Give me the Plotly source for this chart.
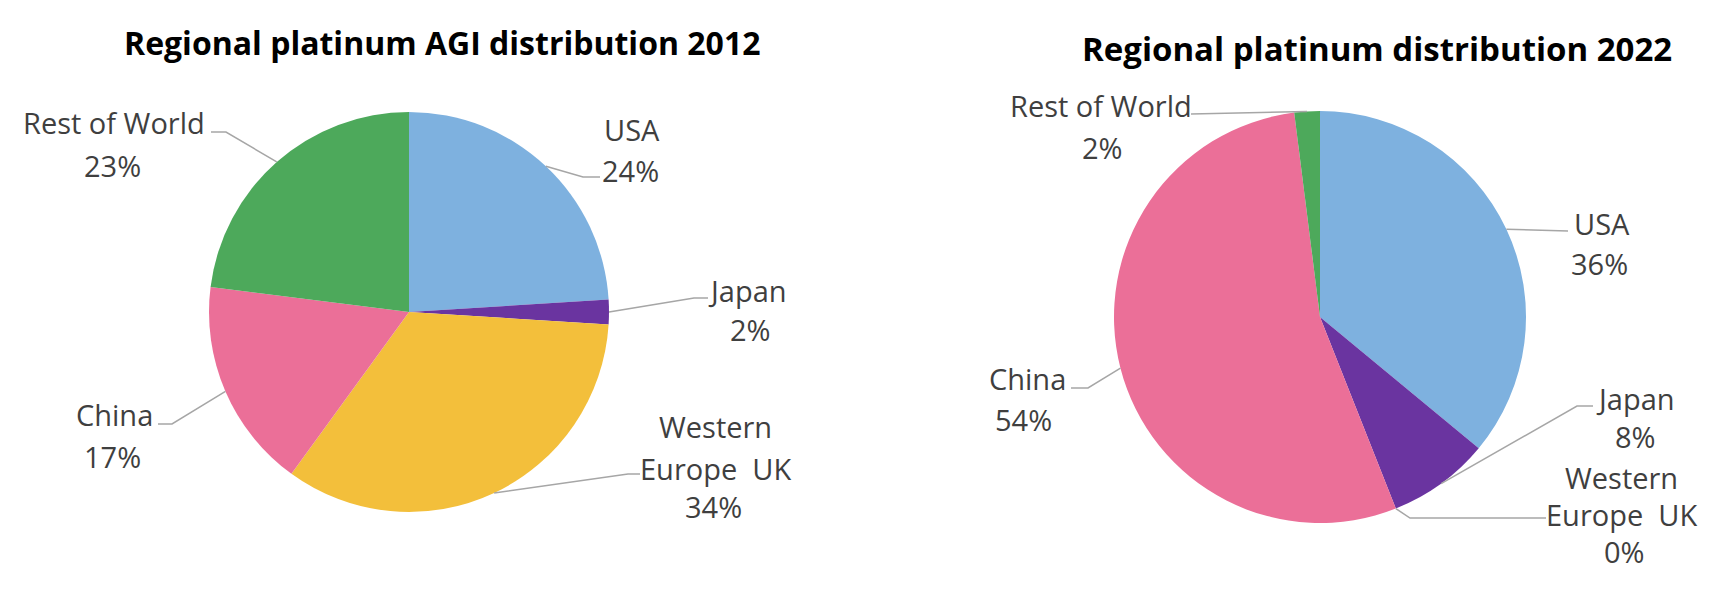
import math
import plotly.graph_objects as go

# ---------------- data ----------------
regions = ["USA", "Japan", "Western Europe UK", "China", "Rest of World"]
label_lines = [["USA"], ["Japan"], ["Western", "Europe  UK"], ["China"], ["Rest of World"]]
share_2012 = [24, 2, 34, 17, 23]
share_2022 = [36, 8, 0, 54, 2]
titles = ["Regional platinum AGI distribution 2012", "Regional platinum distribution 2022"]

# ---------------- style / layout ----------------
colors = ["#7EB1DF", "#6A34A0", "#F3BF3B", "#EB6F98", "#4DA95B"]
PAGE_W, PAGE_H = 1720, 596
BODY_MARGIN = 8                      # default html body margin
W, H = PAGE_W - 2 * BODY_MARGIN, PAGE_H - 2 * BODY_MARGIN
FONT = "Open Sans, Roboto, Liberation Sans, sans-serif"


def px(x):
    return (x - BODY_MARGIN) / W


def py(y):
    return 1 - (y - BODY_MARGIN) / H


charts = [
    dict(
        values=share_2012, title=titles[0], title_size=32, cx=409, cy=312, r=200, title_xy=(442, 42),
        text_pos={
            "USA": [(632, 130), (630, 170)],
            "Japan": [(747, 291), (750, 329)],
            "Western Europe UK": [(715, 426), (715, 468), (713, 506)],
            "China": [(114, 414), (112, 456)],
            "Rest of World": [(114, 122), (112, 165)],
        },
        leader={
            "USA": [(600, 177), (583, 177)],
            "Japan": [(708, 298), (694, 298)],
            "Western Europe UK": [(640, 474), (628, 474)],
            "China": [(158, 424), (172, 424)],
            "Rest of World": [(211, 132), (226, 132)],
        },
    ),
    dict(
        values=share_2022, title=titles[1], title_size=33, cx=1320, cy=317, r=206, title_xy=(1377, 48),
        text_pos={
            "USA": [(1602, 223), (1599, 263)],
            "Japan": [(1635, 398), (1635, 436)],
            "Western Europe UK": [(1621, 477), (1621, 514), (1624, 551)],
            "China": [(1027, 378), (1024, 419)],
            "Rest of World": [(1101, 105), (1102, 147)],
        },
        leader={
            "USA": [(1568, 231)],
            "Japan": [(1593, 406), (1577, 406)],
            "Western Europe UK": [(1546, 518), (1410, 518)],
            "China": [(1071, 388), (1088, 388)],
            "Rest of World": [(1191, 114)],
        },
    ),
]

fig = go.Figure()
annotations = []
shapes = []

for ch in charts:
    cx, cy, r = ch["cx"], ch["cy"], ch["r"]
    vals = ch["values"]
    fig.add_trace(go.Pie(
        labels=regions, values=vals, sort=False, direction="clockwise", rotation=0,
        marker=dict(colors=colors, line=dict(color="white", width=0)),
        textinfo="none", hoverinfo="label+percent",
        domain=dict(x=[px(cx - r), px(cx + r)], y=[py(cy + r), py(cy - r)]),
        showlegend=False,
    ))
    # title
    annotations.append(dict(
        x=px(ch["title_xy"][0]), y=py(ch["title_xy"][1]), xref="paper", yref="paper",
        text="<b>" + ch["title"] + "</b>", showarrow=False, xanchor="center", yanchor="middle",
        font=dict(family=FONT, size=ch["title_size"], color="#000000"),
    ))
    total = sum(vals)
    cum = 0.0
    for name, lines, v in zip(regions, label_lines, vals):
        mid = (cum + v / 2) / total
        cum += v
        ang = 2 * math.pi * mid
        ex, ey = cx + r * math.sin(ang), cy - r * math.cos(ang)
        # label texts
        texts = list(lines) + [f"{v}%"]
        for t, (tx, ty) in zip(texts, ch["text_pos"][name]):
            annotations.append(dict(
                x=px(tx), y=py(ty), xref="paper", yref="paper", text=t, showarrow=False,
                xanchor="center", yanchor="middle",
                font=dict(family=FONT, size=29, color="#3F3F3F"),
            ))
        # leader line
        pts = ch["leader"][name] + [(ex, ey)]
        path = "M " + " L ".join(f"{px(x):.5f},{py(y):.5f}" for x, y in pts)
        shapes.append(dict(type="path", path=path, xref="paper", yref="paper",
                           line=dict(color="#A6A6A6", width=1.5)))

fig.update_layout(
    width=W, height=H, margin=dict(l=0, r=0, t=0, b=0),
    paper_bgcolor="white", plot_bgcolor="white",
    annotations=annotations, shapes=shapes,
    font=dict(family=FONT),
)

fig.write_html("out.html")
